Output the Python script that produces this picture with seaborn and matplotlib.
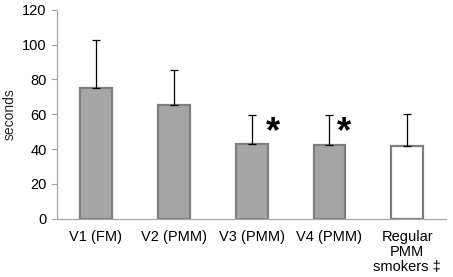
import matplotlib
matplotlib.use("Agg")
import matplotlib.pyplot as plt
import seaborn as sns
import pandas as pd
import numpy as np

# values
groups = ["V1 (FM)", "V2 (PMM)", "V3 (PMM)", "V4 (PMM)", "Regular\nPMM\nsmokers \u2021"]
means = [75.3, 65.5, 43.0, 42.3, 42.0]
errs = [27.5, 20.0, 16.5, 17.2, 18.3]
fills = ["#A6A6A6", "#A6A6A6", "#A6A6A6", "#A6A6A6", "#FFFFFF"]
starred = ["V3 (PMM)", "V4 (PMM)"]

sns.set_style("white")
plt.rcParams['font.family'] = ['Liberation Sans', 'DejaVu Sans']

df = pd.DataFrame({"group": groups, "seconds": means})

fig = plt.figure(figsize=(4.53, 2.77), dpi=100)
ax = fig.add_axes([0.126, 0.211, 0.859, 0.753])

sns.barplot(data=df, x="group", y="seconds", hue="group", palette=fills,
            width=0.41, edgecolor="#7F7F7F", linewidth=1.6, legend=False, ax=ax)

x = np.arange(len(groups))
ax.errorbar(x, means, yerr=[np.zeros(len(errs)), errs], fmt="none",
            ecolor="black", elinewidth=0.9, capsize=3, capthick=0.9, zorder=1)

# asterisks next to the error bars
for g, dx in zip(starred, [0.27, 0.19]):
    i = groups.index(g)
    ax.text(i + dx, means[i] + errs[i] - 10, "*", fontsize=26, fontweight="bold",
            ha="center", va="center", color="black")

ax.set_ylim(0, 120)
ax.set_yticks(range(0, 121, 20))
ax.set_xlim(-0.5, len(groups) - 0.5)
ax.set_xlabel("")
ax.set_ylabel("seconds", fontsize=10)
ax.tick_params(axis="both", labelsize=10.5, colors="black")
ax.tick_params(axis="x", length=0, pad=8)
for t in ax.get_xticklabels():
    t.set_linespacing(1.1)
ax.set_xticks(np.arange(-0.5, len(groups)), minor=True)
ax.tick_params(axis="x", which="minor", length=4, color="#A6A6A6", direction="out")
ax.tick_params(axis="y", length=4, color="#A6A6A6", direction="out", left=True)

sns.despine(ax=ax)
for s in ["left", "bottom"]:
    ax.spines[s].set_color("#A6A6A6")
    ax.spines[s].set_linewidth(0.9)

fig.savefig("out.png", dpi=100)
